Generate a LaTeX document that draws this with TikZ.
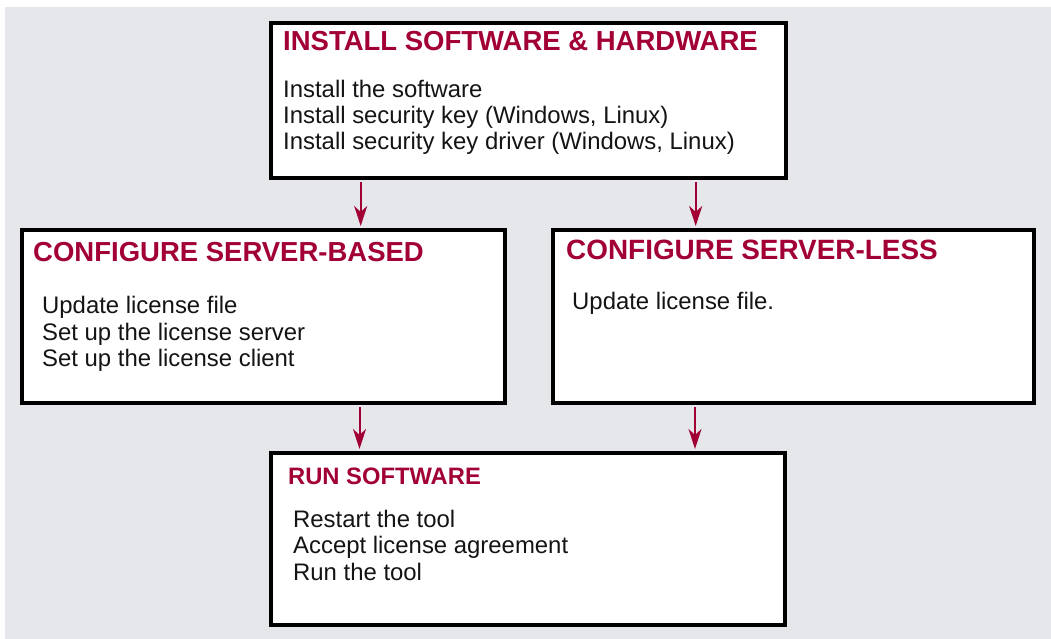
\documentclass[tikz,border=0pt]{standalone}
\usepackage{fontspec}
\setmainfont{Liberation Sans}
\usetikzlibrary{arrows.meta}
\definecolor{crim}{HTML}{A20035}
\definecolor{bggray}{HTML}{E6E7EB}
\tikzset{
  box/.style={draw=black, line width=4pt, fill=white, inner sep=0pt},
  ttl/.style={anchor=base west, inner sep=0pt, text=crim, font=\fontsize{27.5}{30}\selectfont\bfseries},
  ttlsmall/.style={anchor=base west, inner sep=0pt, text=crim, font=\fontsize{23.75}{26}\selectfont\bfseries},
  bodyline/.style={anchor=base west, inner sep=0pt, text=black!92, font=\fontsize{23.9}{26}\selectfont},
  arr/.style={draw=crim, line width=2pt, -{Stealth[length=20pt, width=13pt, inset=6pt]}, shorten <=2pt, shorten >=2pt}
}
\begin{document}
\begin{tikzpicture}[x=1pt, y=-1pt]
\useasboundingbox (0,0) rectangle (1051,639);
\fill[bggray] (5,7) rectangle (1051,639);

% boxes
\node[box, minimum width=515pt, minimum height=155pt] (inst) at (528.5,100.5) {};
\node[box, minimum width=483pt, minimum height=173pt] (based) at (263.5,316.5) {};
\node[box, minimum width=481pt, minimum height=173pt] (less) at (793.5,316.5) {};
\node[box, minimum width=514pt, minimum height=172pt] (run) at (528,539) {};

% texts
\node[ttl] (instT) at (283,51) {INSTALL SOFTWARE \& HARDWARE};
\node[bodyline] (instA) at (283,98) {Install the software};
\node[bodyline] (instB) at (283,124) {Install security key (Windows, Linux)};
\node[bodyline] (instC) at (283,150) {Install security key driver (Windows, Linux)};

\node[ttl] (basedT) at (33,261) {CONFIGURE SERVER-BASED};
\node[bodyline] (basedA) at (42,313) {Update license file};
\node[bodyline] (basedB) at (42,340) {Set up the license server};
\node[bodyline] (basedC) at (42,366) {Set up the license client};

\node[ttl, font=\fontsize{27.9}{30}\selectfont\bfseries] (lessT) at (566,259) {CONFIGURE SERVER-LESS};
\node[bodyline] (lessA) at (572,309) {Update license file.};

\node[ttlsmall] (runT) at (288,484) {RUN SOFTWARE};
\node[bodyline] (runA) at (293,527) {Restart the tool};
\node[bodyline] (runB) at (293,553) {Accept license agreement};
\node[bodyline] (runC) at (293,580) {Run the tool};

% connectors
\draw[arr] ([xshift=91.7pt]inst.south west) -- ([xshift=91.7pt]inst.south west |- based.north);
\draw[arr] ([xshift=426.7pt]inst.south west) -- ([xshift=426.7pt]inst.south west |- less.north);
\draw[arr] ([xshift=90.5pt]run.north west |- based.south) -- ([xshift=90.5pt]run.north west);
\draw[arr] ([xshift=426pt]run.north west |- less.south) -- ([xshift=426pt]run.north west);
\end{tikzpicture}
\end{document}
